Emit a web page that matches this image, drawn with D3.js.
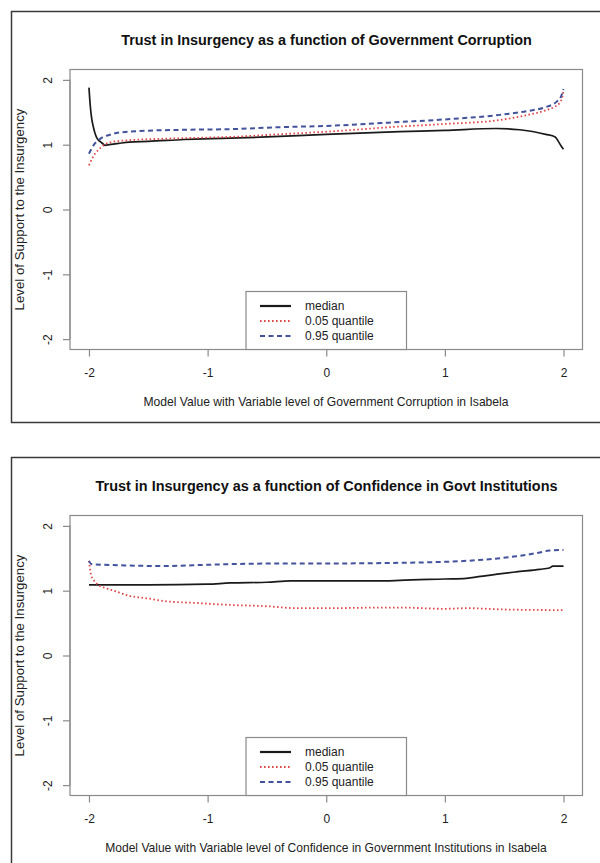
<!DOCTYPE html>
<html>
<head>
<meta charset="utf-8">
<script src="https://cdn.jsdelivr.net/npm/d3@7"></script>
<style>
  html, body { margin: 0; padding: 0; background: #fff; }
  svg { display: block; font-family: "Liberation Sans", Arial, sans-serif; }
</style>
</head>
<body>
<svg id="chart" width="600" height="863"></svg>
<script>
// ---- data -------------------------------------------------------------
const xTicks = [-2, -1, 0, 1, 2];
const yTicks = [-2, -1, 0, 1, 2];
const legendLabels = ["median", "0.05 quantile", "0.95 quantile"];

const titles = [
  "Trust in Insurgency as a function of Government Corruption",
  "Trust in Insurgency as a function of Confidence in Govt Institutions"
];
const xTitles = [
  "Model Value with Variable level of Government Corruption in Isabela",
  "Model Value with Variable level of Confidence in Government Institutions in Isabela"
];
const yTitle = "Level of Support to the Insurgency";

// Panel 1: government corruption
const corrMedian = [[-2,1.88],[-1.99,1.62],[-1.98,1.44],[-1.964,1.28],[-1.95,1.18],[-1.935,1.11],
  [-1.92,1.07],[-1.9,1.04],[-1.88,1.01],[-1.865,0.99],[-1.83,1.0],[-1.75,1.02],[-1.66,1.04],
  [-1.5,1.05],[-1.2,1.08],[-0.81,1.10],[-0.5,1.12],[0,1.16],[0.62,1.20],[1.0,1.22],[1.43,1.25],
  [1.63,1.23],[1.75,1.20],[1.85,1.16],[1.93,1.12],[1.96,1.04],[1.98,0.98],[2.0,0.93]];
const corrQ05 = [[-2,0.68],[-1.975,0.78],[-1.95,0.86],[-1.92,0.92],[-1.89,0.97],[-1.85,1.02],
  [-1.78,1.05],[-1.66,1.07],[-1.4,1.09],[-1.0,1.11],[-0.81,1.12],[-0.4,1.16],[0,1.20],[0.62,1.28],
  [1.0,1.32],[1.46,1.38],[1.7,1.46],[1.85,1.53],[1.93,1.59],[1.97,1.65],[1.99,1.74],[2.0,1.84]];
const corrQ95 = [[-2,0.86],[-1.975,0.95],[-1.95,1.02],[-1.92,1.07],[-1.89,1.11],[-1.83,1.15],
  [-1.77,1.18],[-1.57,1.21],[-1.2,1.23],[-0.81,1.24],[-0.4,1.27],[0,1.29],[0.62,1.35],[1.0,1.39],
  [1.46,1.46],[1.7,1.52],[1.85,1.58],[1.94,1.66],[1.98,1.75],[2.0,1.86]];

// Panel 2: confidence in government institutions
const confMedian = [[-2,1.09],[-1.5,1.09],[-1.0,1.10],[-0.81,1.12],[-0.5,1.13],[-0.3,1.15],[0,1.15],
  [0.5,1.15],[0.62,1.16],[1.0,1.18],[1.18,1.19],[1.3,1.22],[1.46,1.26],[1.6,1.29],[1.8,1.33],
  [1.88,1.35],[1.91,1.38],[2.0,1.38]];
const confQ05 = [[-2,1.46],[-1.99,1.32],[-1.98,1.23],[-1.955,1.15],[-1.93,1.10],[-1.86,1.04],
  [-1.79,1.0],[-1.66,0.92],[-1.5,0.88],[-1.37,0.84],[-1.09,0.81],[-0.81,0.78],[-0.5,0.76],
  [-0.25,0.73],[0,0.73],[0.5,0.74],[0.62,0.74],[1.0,0.72],[1.18,0.73],[1.5,0.71],[2.0,0.70]];
const confQ95 = [[-2,1.46],[-1.98,1.41],[-1.7,1.39],[-1.37,1.38],[-1.0,1.40],[-0.81,1.41],[-0.3,1.42],
  [0,1.42],[0.62,1.43],[0.9,1.44],[1.18,1.46],[1.4,1.49],[1.6,1.53],[1.8,1.59],[1.88,1.62],[2.0,1.63]];

const panels = [
  { series: [corrMedian, corrQ05, corrQ95], title: titles[0], xTitle: xTitles[0] },
  { series: [confMedian, confQ05, confQ95], title: titles[1], xTitle: xTitles[1] }
];

// ---- styling ----------------------------------------------------------
const lineStyles = [
  { color: "#1a1a1a", width: 1.7, dash: null },
  { color: "#e2484a", width: 1.8, dash: "1.6,2.4" },
  { color: "#42529c", width: 2.0, dash: "5,3.5" }
];
const textColor = "#222";
const boxColor = "#8a8a8a";

const svg = d3.select("#chart");

// Shrink or grow a text node's font so its rendered width hits a target.
function fitWidth(sel, target) {
  const node = sel.node();
  const fs = parseFloat(sel.attr("font-size"));
  const w = node.getComputedTextLength();
  if (w > 0) sel.attr("font-size", (fs * target / w).toFixed(2));
}

const panelGap = 446;
const titleWidths = [411, 462];
const xTitleWidths = [365, 442];

panels.forEach((p, i) => {
  const oy = i * panelGap;
  const g = svg.append("g").attr("transform", `translate(0,${oy})`);

  // outer frame of the figure
  g.append("rect")
    .attr("x", 11.5).attr("y", 11.5)
    .attr("width", 620).attr("height", 411)
    .attr("fill", "none").attr("stroke", "#3a3a3a").attr("stroke-width", 1.5);

  const x = d3.scaleLinear().domain([-2.16, 2.16]).range([70, 582.5]);
  const y = d3.scaleLinear().domain([-2.16, 2.16]).range([349.5, 69.5]);

  // plot region box
  g.append("rect")
    .attr("x", x.range()[0]).attr("y", y.range()[1])
    .attr("width", x.range()[1] - x.range()[0])
    .attr("height", y.range()[0] - y.range()[1])
    .attr("fill", "none").attr("stroke", boxColor).attr("stroke-width", 1.2);

  const fmt = d => d3.format("d")(d).replace("−", "-");

  // x axis
  const xAxis = g.append("g")
    .attr("transform", `translate(0,${y.range()[0]})`)
    .call(d3.axisBottom(x).tickValues(xTicks).tickSize(7).tickPadding(12).tickFormat(fmt));
  xAxis.select(".domain").attr("d", `M${x(-2)},0H${x(2)}`).attr("stroke", boxColor).attr("stroke-width", 1.2);
  xAxis.selectAll(".tick line").attr("stroke", boxColor).attr("stroke-width", 1.2);
  xAxis.selectAll(".tick text").attr("fill", textColor).attr("font-size", 12)
    .attr("font-family", "Liberation Sans, Arial, sans-serif");

  // y axis (labels parallel to the axis)
  const yAxis = g.append("g")
    .attr("transform", `translate(${x.range()[0]},0)`)
    .call(d3.axisLeft(y).tickValues(yTicks).tickSize(7).tickFormat(fmt));
  yAxis.select(".domain").attr("d", `M0,${y(-2)}V${y(2)}`).attr("stroke", boxColor).attr("stroke-width", 1.2);
  yAxis.selectAll(".tick line").attr("stroke", boxColor).attr("stroke-width", 1.2);
  yAxis.selectAll(".tick text")
    .attr("fill", textColor).attr("font-size", 12)
    .attr("font-family", "Liberation Sans, Arial, sans-serif")
    .attr("x", null)
    .attr("text-anchor", "middle")
    .attr("transform", "translate(-22,0) rotate(-90)")
    .attr("dy", "0.35em");

  // curves
  const line = d3.line().x(d => x(d[0])).y(d => y(d[1])).curve(d3.curveMonotoneX);
  p.series.forEach((s, k) => {
    const st = lineStyles[k];
    g.append("path")
      .datum(s)
      .attr("d", line)
      .attr("fill", "none")
      .attr("stroke", st.color)
      .attr("stroke-width", st.width)
      .attr("stroke-dasharray", st.dash)
      .attr("stroke-linejoin", "round");
  });

  // title
  const t = g.append("text")
    .attr("x", 326.5).attr("y", 45)
    .attr("text-anchor", "middle")
    .attr("font-weight", "bold").attr("font-size", 13.5)
    .attr("fill", "#111")
    .text(p.title);
  fitWidth(t, titleWidths[i]);

  // x axis title
  const xt = g.append("text")
    .attr("x", 326).attr("y", 406)
    .attr("text-anchor", "middle")
    .attr("font-size", 11).attr("fill", textColor)
    .text(p.xTitle);
  fitWidth(xt, xTitleWidths[i]);

  // y axis title
  const yt = g.append("text")
    .attr("transform", `translate(24,${(y.range()[0] + y.range()[1]) / 2}) rotate(-90)`)
    .attr("text-anchor", "middle")
    .attr("font-size", 11).attr("fill", textColor)
    .text(yTitle);
  fitWidth(yt, 202);

  // legend
  const lx0 = 246, lx1 = 406.5, ly0 = 291.5;
  g.append("rect")
    .attr("x", lx0).attr("y", ly0)
    .attr("width", lx1 - lx0).attr("height", y.range()[0] - ly0)
    .attr("fill", "#fff").attr("stroke", boxColor).attr("stroke-width", 1.2);
  legendLabels.forEach((lab, k) => {
    const ry = 306 + k * 15;
    const st = lineStyles[k];
    g.append("line")
      .attr("x1", 260).attr("x2", 291).attr("y1", ry).attr("y2", ry)
      .attr("stroke", st.color).attr("stroke-width", k === 0 ? 2.2 : st.width)
      .attr("stroke-dasharray", st.dash);
    g.append("text")
      .attr("x", 305).attr("y", ry).attr("dy", "0.36em")
      .attr("font-size", 12).attr("fill", textColor)
      .text(lab);
  });
});
</script>
</body>
</html>
